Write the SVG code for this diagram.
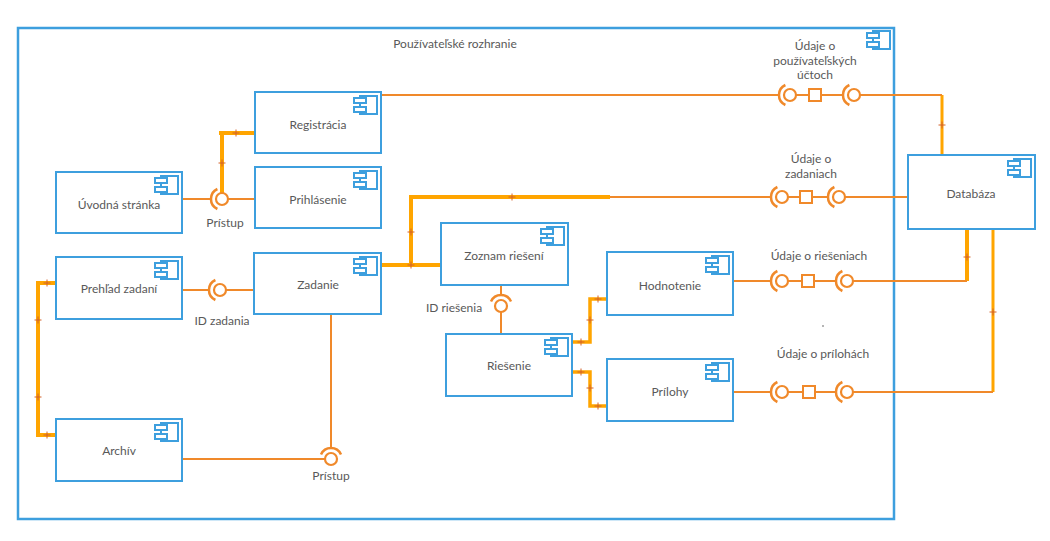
<svg xmlns="http://www.w3.org/2000/svg" xmlns:xlink="http://www.w3.org/1999/xlink" width="1050" height="541" viewBox="0 0 1050 541">
<style>
.node{fill:#fff;stroke:#3d9fde;stroke-width:2}
.frame{fill:#fff;stroke:#3d9fde;stroke-width:2.5}
.ic{fill:#fff;stroke:#3d9fde;stroke-width:2}
.lbl{font-family:Lato,"Liberation Sans",sans-serif;font-size:12px;fill:#595959;text-anchor:middle;dominant-baseline:central}
.thin{fill:none;stroke:#f0892a;stroke-width:2}
.thick{fill:none;stroke:#ffa500;stroke-width:4}
.ball{fill:#fff;stroke:#f0892a;stroke-width:2.2}
.sock{fill:none;stroke:#f0892a;stroke-width:2.5}
.sq{fill:#fff;stroke:#f0892a;stroke-width:2}
.tick{stroke:#d2602a;stroke-width:1;fill:none}
</style>
<defs>
<g id="cicon">
<rect class="ic" x="-21" y="4" width="17" height="18"/>
<rect class="ic" x="-27" y="6" width="12" height="5"/>
<rect class="ic" x="-27" y="15" width="12" height="5"/>
</g>
<path id="tk" class="tick" d="M-3.5 0H3.5M0 -3.5V3.5"/>
<!-- socket opening right, centered at 0,0 -->
<path id="sockL" class="sock" d="M-4.6 -10 A11 11 0 0 0 -4.6 10"/>
<!-- socket opening down -->
<path id="sockT" class="sock" d="M-10 -4.6 A11 11 0 0 1 10 -4.6"/>
</defs>

<g id="frame">
<rect class="frame" x="18" y="28" width="876" height="491"/>
<use xlink:href="#cicon" x="894" y="27"/>
<text class="lbl" x="455" y="43">Používateľské rozhranie</text>
</g>

<g id="connectors">
<!-- thin lines -->
<path class="thin" d="M182 199H211M228 199H255"/>
<path class="thin" d="M182 290H209M226 290H254"/>
<path class="thin" d="M331 314V448M182 459H325"/>
<path class="thin" d="M501 285V295M501 312V334"/>
<!-- thick lines -->
<path class="thick" d="M219 133H255M222 193V133"/>
<path class="thick" d="M381 265H441M411 265V197H610"/>
<path class="thick" d="M56 283H38V435H56"/>
<path class="thick" style="stroke-width:3.5" d="M572 342H590V299H607"/>
<path class="thick" style="stroke-width:3.5" d="M572 372H590V406H607"/>
<path class="thick" style="stroke-width:3" d="M942 95V155"/>
<path class="thick" d="M967 281V229"/>
<path class="thick" style="stroke-width:3" d="M993 392V229"/>
<!-- interface lines -->
<path class="thin" d="M381 95H779M796 95H809M821 95H843M860 95H942"/>
<path class="thin" d="M610 197H771M788 197H800M812 197H828M845 197H908"/>
<path class="thin" d="M733 281H771M788 281H802M814 281H836M853 281H967"/>
<path class="thin" d="M733 392H771M788 392H803M815 392H836M853 392H993" />
<!-- ticks -->
<use xlink:href="#tk" x="236" y="133"/>
<use xlink:href="#tk" x="222" y="163"/>
<use xlink:href="#tk" x="411" y="232"/>
<use xlink:href="#tk" x="411" y="265"/>
<use xlink:href="#tk" x="512" y="197"/>
<use xlink:href="#tk" x="47" y="283"/>
<use xlink:href="#tk" x="38" y="320"/>
<use xlink:href="#tk" x="38" y="397"/>
<use xlink:href="#tk" x="47" y="435"/>
<use xlink:href="#tk" x="581" y="342"/>
<use xlink:href="#tk" x="590" y="320"/>
<use xlink:href="#tk" x="598" y="299"/>
<use xlink:href="#tk" x="581" y="372"/>
<use xlink:href="#tk" x="590" y="388"/>
<use xlink:href="#tk" x="598" y="406"/>
<use xlink:href="#tk" x="942" y="125"/>
<use xlink:href="#tk" x="967" y="257"/>
<use xlink:href="#tk" x="993" y="312"/>
</g>

<g id="if-pristup1">
<use xlink:href="#sockL" x="222" y="199"/>
<circle class="ball" cx="222" cy="199" r="6"/>
<text class="lbl" x="225" y="222">Prístup</text>
</g>
<g id="if-idzadania">
<use xlink:href="#sockL" x="220" y="290"/>
<circle class="ball" cx="220" cy="290" r="6"/>
<text class="lbl" x="222" y="320">ID zadania</text>
</g>
<g id="if-pristup2">
<use xlink:href="#sockT" x="331" y="459"/>
<circle class="ball" cx="331" cy="459" r="6"/>
<text class="lbl" x="331" y="475">Prístup</text>
</g>
<g id="if-idriesenia">
<use xlink:href="#sockT" x="501" y="306"/>
<circle class="ball" cx="501" cy="306" r="6"/>
<text class="lbl" x="454" y="307">ID riešenia</text>
</g>

<g id="if-ucty">
<use xlink:href="#sockL" x="790" y="95"/>
<circle class="ball" cx="790" cy="95" r="6"/>
<rect class="sq" x="809" y="89" width="12" height="12"/>
<use xlink:href="#sockL" x="854" y="95"/>
<circle class="ball" cx="854" cy="95" r="6"/>
<text class="lbl" x="815" y="45">Údaje o</text>
<text class="lbl" x="815" y="60">používateľských</text>
<text class="lbl" x="815" y="74">účtoch</text>
</g>
<g id="if-zadania">
<use xlink:href="#sockL" x="782" y="197"/>
<circle class="ball" cx="782" cy="197" r="6"/>
<rect class="sq" x="800" y="191" width="12" height="12"/>
<use xlink:href="#sockL" x="839" y="197"/>
<circle class="ball" cx="839" cy="197" r="6"/>
<text class="lbl" x="811" y="158">Údaje o</text>
<text class="lbl" x="811" y="173">zadaniach</text>
</g>
<g id="if-riesenia">
<use xlink:href="#sockL" x="782" y="281"/>
<circle class="ball" cx="782" cy="281" r="6"/>
<rect class="sq" x="802" y="275" width="12" height="12"/>
<use xlink:href="#sockL" x="847" y="281"/>
<circle class="ball" cx="847" cy="281" r="6"/>
<text class="lbl" x="819" y="255">Údaje o riešeniach</text>
</g>
<g id="if-prilohy">
<use xlink:href="#sockL" x="782" y="392"/>
<circle class="ball" cx="782" cy="392" r="6"/>
<rect class="sq" x="803" y="386" width="12" height="12"/>
<use xlink:href="#sockL" x="847" y="392"/>
<circle class="ball" cx="847" cy="392" r="6"/>
<text class="lbl" x="823" y="353">Údaje o prílohách</text>
</g>
<circle cx="823" cy="326" r="0.7" fill="#333"/>

<g id="uvod"><rect class="node" x="56" y="172" width="126" height="61"/><use xlink:href="#cicon" x="182" y="172"/><text class="lbl" x="119" y="204">Úvodná stránka</text></g>
<g id="registracia"><rect class="node" x="255" y="92" width="126" height="61"/><use xlink:href="#cicon" x="381" y="92"/><text class="lbl" x="318" y="124">Registrácia</text></g>
<g id="prihlasenie"><rect class="node" x="255" y="167" width="126" height="61"/><use xlink:href="#cicon" x="381" y="167"/><text class="lbl" x="318" y="199">Prihlásenie</text></g>
<g id="prehlad"><rect class="node" x="56" y="257" width="126" height="62"/><use xlink:href="#cicon" x="182" y="257"/><text class="lbl" x="119" y="288">Prehľad zadaní</text></g>
<g id="zadanie"><rect class="node" x="254" y="253" width="127" height="61"/><use xlink:href="#cicon" x="381" y="253"/><text class="lbl" x="318" y="284">Zadanie</text></g>
<g id="archiv"><rect class="node" x="56" y="419" width="126" height="62"/><use xlink:href="#cicon" x="182" y="419"/><text class="lbl" x="119" y="450">Archív</text></g>
<g id="zoznam"><rect class="node" x="441" y="223" width="127" height="62"/><use xlink:href="#cicon" x="568" y="223"/><text class="lbl" x="504" y="255">Zoznam riešení</text></g>
<g id="riesenie"><rect class="node" x="446" y="334" width="126" height="62"/><use xlink:href="#cicon" x="572" y="334"/><text class="lbl" x="509" y="365">Riešenie</text></g>
<g id="hodnotenie"><rect class="node" x="607" y="252" width="126" height="63"/><use xlink:href="#cicon" x="733" y="252"/><text class="lbl" x="670" y="285">Hodnotenie</text></g>
<g id="prilohy"><rect class="node" x="607" y="359" width="126" height="62"/><use xlink:href="#cicon" x="733" y="359"/><text class="lbl" x="670" y="391">Prílohy</text></g>
<g id="databaza"><rect class="node" x="908" y="155" width="127" height="74"/><use xlink:href="#cicon" x="1035" y="155"/><text class="lbl" x="971" y="193">Databáza</text></g>
</svg>
